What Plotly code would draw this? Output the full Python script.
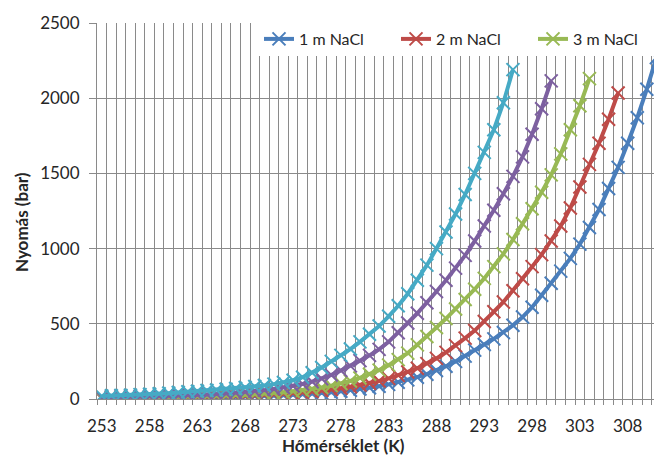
import plotly.graph_objects as go

# Temperatures (K) for each series
T_start = 253
T_end_1m = 311
T_end_2m = 307
T_end_3m = 304
T_end_s4 = 300
T_end_s5 = 296

# Pressures (bar)
p_1m = [4, 4, 5, 5, 6, 6, 7, 7, 8, 9, 10, 11, 12, 13, 14, 16, 18, 20, 22, 25,
        28, 31, 35, 40, 45, 51, 58, 66, 75, 85, 97, 111, 127, 145, 165, 190, 218, 250, 285, 325,
        362, 400, 442, 490, 545, 610, 690, 770, 850, 935, 1030, 1140, 1260, 1400, 1540, 1700, 1870, 2060, 2270]
p_2m = [5, 6, 6, 7, 8, 8, 9, 10, 11, 12, 13, 14, 16, 18, 20, 22, 25, 28, 31, 35,
        39, 44, 50, 56, 63, 71, 81, 92, 105, 120, 137, 157, 180, 205, 235, 270, 310, 355, 405, 455,
        515, 580, 645, 720, 800, 880, 960, 1050, 1150, 1270, 1410, 1560, 1700, 1860, 2035]
p_3m = [7, 8, 8, 9, 10, 11, 12, 13, 14, 16, 17, 19, 21, 23, 26, 29, 32, 36, 40, 45,
        51, 58, 67, 77, 89, 103, 120, 140, 165, 192, 225, 262, 305, 360, 415, 475, 535, 598, 662, 730,
        802, 880, 965, 1060, 1165, 1265, 1375, 1490, 1630, 1790, 1950, 2130]
p_s4 = [12, 13, 14, 15, 16, 18, 19, 21, 23, 25, 27, 30, 33, 37, 41, 46, 52, 59, 67, 76,
        87, 100, 115, 135, 160, 190, 220, 255, 290, 330, 380, 440, 505, 570, 640, 715, 790, 870, 955, 1050,
        1150, 1255, 1365, 1480, 1610, 1760, 1930, 2115]
p_s5 = [20, 22, 24, 26, 29, 32, 35, 39, 43, 48, 52, 56, 60, 65, 70, 76, 83, 90, 99, 110,
        125, 145, 175, 210, 250, 290, 332, 380, 430, 485, 550, 620, 700, 790, 890, 1000, 1110, 1230, 1360, 1500,
        1640, 1790, 1970, 2190]

names = ["1 m NaCl", "2 m NaCl", "3 m NaCl", "4", "5"]
colors = ["#4A7EBB", "#BE4B48", "#98B954", "#7D60A0", "#46AAC5"]
ends = [T_end_1m, T_end_2m, T_end_3m, T_end_s4, T_end_s5]
series = [p_1m, p_2m, p_3m, p_s4, p_s5]

x_tick_labels = list(range(253, 309, 5))

W, H = 654, 456
L, R, T, B = 97, 0, 23, 57
FONT = "Lato"
PW, PH = W - L - R, H - T - B

fig = go.Figure()
for i, (nm, c, e, p) in enumerate(zip(names, colors, ends, series)):
    xs = list(range(T_start, e + 1))
    fig.add_trace(go.Scatter(
        x=xs, y=p, name=nm, mode="lines+markers",
        line=dict(color=c, width=4),
        marker=dict(symbol="x-thin", size=13, color=c, line=dict(width=2, color=c)),
        showlegend=i < 3,
    ))

grid = "#8a8a8a"
fig.update_layout(
    width=W, height=H,
    margin=dict(l=L, r=R, t=T, b=B, autoexpand=False),
    paper_bgcolor="white", plot_bgcolor="white",
    font=dict(family=FONT, size=17, color="#262626"),
    showlegend=True,
    legend=dict(
        orientation="h", x=(259 - L) / PW, xanchor="left",
        y=1 - (39 - T) / PH, yanchor="middle",
        bgcolor="white", borderwidth=0,
        font=dict(family=FONT, size=16, color="#262626"),
        entrywidth=92, entrywidthmode="pixels",
        tracegroupgap=0,
    ),
    xaxis=dict(
        range=[252.5, 310.75],
        tickmode="array", tickvals=x_tick_labels,
        ticktext=[str(v) for v in x_tick_labels],
        ticks="", showgrid=False, zeroline=False,
        showline=True, linecolor=grid, linewidth=1,
        ticklabelstandoff=12,
        minor=dict(tick0=252.5, dtick=1, showgrid=True, gridcolor=grid, gridwidth=1,
                   ticks="outside", ticklen=5, tickcolor=grid),
    ),
    yaxis=dict(
        range=[0, 2500], dtick=500, tick0=0,
        showgrid=True, gridcolor=grid, gridwidth=1, zeroline=False,
        showline=True, linecolor=grid, linewidth=1,
        ticks="outside", ticklen=7, tickcolor=grid,
        ticklabelstandoff=6,
    ),
    annotations=[
        dict(text="<b>Hőmérséklet (K)</b>", xref="paper", yref="paper",
             x=(343 - L) / PW, y=-(445 - (H - B)) / PH,
             xanchor="center", yanchor="middle", showarrow=False,
             font=dict(family=FONT, size=17, color="#262626")),
        dict(text="<b>Nyomás (bar)</b>", xref="paper", yref="paper",
             x=-(L - 21) / PW, y=1 - (222 - T) / PH,
             xanchor="center", yanchor="middle", showarrow=False, textangle=-90,
             font=dict(family=FONT, size=17, color="#262626")),
    ],
)

fig.write_html("out.html")
